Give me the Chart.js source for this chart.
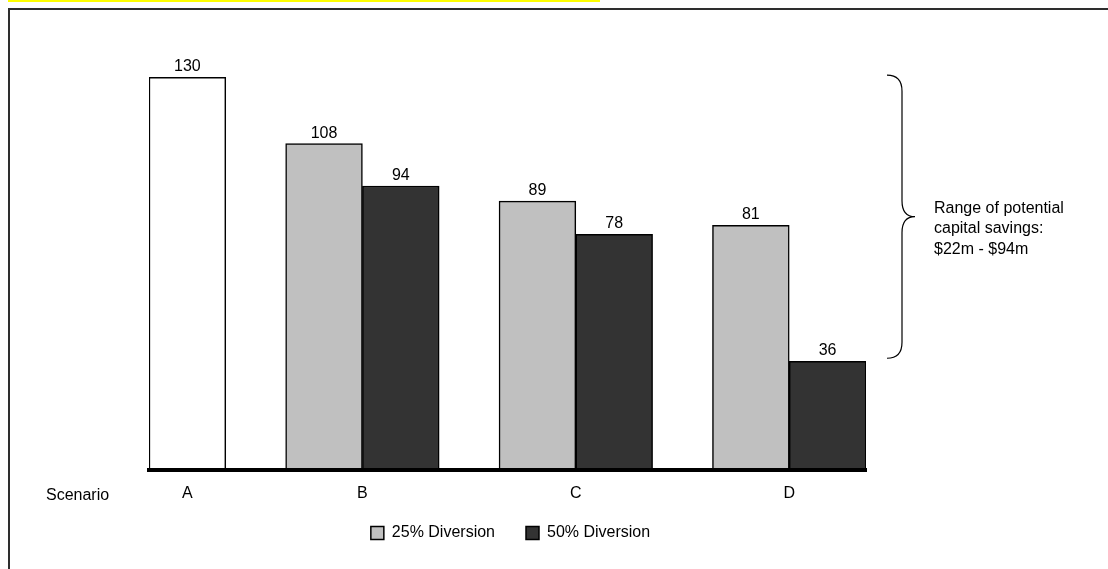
<!DOCTYPE html>
<html>
<head>
<meta charset="utf-8">
<title>Capital cost by scenario</title>
<script src="https://cdn.jsdelivr.net/npm/chart.js@4"></script>
<style>
  html, body { margin: 0; padding: 0; background: #fff; }
  body { width: 1108px; height: 569px; position: relative; overflow: hidden; }
  .strip { position: absolute; left: 8px; top: 0; width: 592px; height: 2px; background: #ffff00; }
  .frame { position: absolute; left: 8px; top: 8px; width: 1120px; height: 600px;
           border-left: 2px solid #2e2e2e; border-top: 2px solid #2e2e2e; }
  #chart { position: absolute; left: 0; top: 0; }
</style>
</head>
<body>
<div class="strip"></div>
<div class="frame"></div>
<canvas id="chart" width="1108" height="569"></canvas>
<script>
  const scenarios = ["A", "B", "C", "D"];
  const baseCase = 130;            // scenario A
  const div25 = [108, 89, 81];     // scenarios B, C, D
  const div50 = [94, 78, 36];
  const seriesNames = ["25% Diversion", "50% Diversion"];
  const yMax = 140;

  const FONT = "Arial, 'Liberation Sans', sans-serif";
  Chart.defaults.font.family = FONT;
  Chart.defaults.font.size = 16;
  Chart.defaults.color = "#000";

  // x runs in bar widths: A on its own, then B-D as pairs with a gap between groups
  const GAP = 0.78;
  const groupStart = (k) => 1 + GAP + k * (2 + GAP);
  const span = groupStart(div25.length - 1) + 2;
  const PAD = { left: 149, right: 242, top: 47, bottom: 2 };
  const barPx = (1108 - PAD.left - PAD.right) / span;
  const tickPos = [0.5].concat(div25.map((_, k) => groupStart(k) + 1));

  const allDiv = div25.concat(div50);
  const saveLo = baseCase - Math.max(...allDiv);
  const saveHi = baseCase - Math.min(...allDiv);

  const annotate = {
    id: "annotate",
    afterLayout(chart) {
      // pull the legend row up closer to the axis labels
      const lg = chart.legend;
      lg.top -= 16;
      lg.bottom -= 16;
      lg.left += 3;
      lg.right += 3;
    },
    afterDatasetsDraw(chart) {
      const ctx = chart.ctx;
      const area = chart.chartArea;
      const y = chart.scales.y;
      ctx.save();
      ctx.fillStyle = "#000";
      ctx.font = "16px " + FONT;

      // value over each bar
      ctx.textAlign = "center";
      ctx.textBaseline = "alphabetic";
      chart.data.datasets.forEach((ds, i) => {
        chart.getDatasetMeta(i).data.forEach((bar, j) => {
          ctx.fillText(String(ds.data[j].y), bar.x, bar.y - 6);
        });
      });

      // row caption for the category axis
      ctx.textAlign = "left";
      ctx.fillText("Scenario", 46, area.bottom + 30);

      // brace spanning base case down to the lowest option
      const top = y.getPixelForValue(baseCase) - 2;
      const bot = y.getPixelForValue(Math.min(...allDiv)) - 3;
      const mid = (top + bot) / 2;
      const x0 = area.right + 21, x1 = x0 + 15, x2 = x0 + 28, r = 16;
      ctx.strokeStyle = "#000";
      ctx.lineWidth = 1.2;
      ctx.beginPath();
      ctx.moveTo(x0, top);
      ctx.quadraticCurveTo(x1, top, x1, top + r);
      ctx.lineTo(x1, mid - r);
      ctx.quadraticCurveTo(x1, mid, x2, mid);
      ctx.quadraticCurveTo(x1, mid, x1, mid + r);
      ctx.lineTo(x1, bot - r);
      ctx.quadraticCurveTo(x1, bot, x0, bot);
      ctx.stroke();

      const lines = ["Range of potential", "capital savings:", "$" + saveLo + "m - $" + saveHi + "m"];
      lines.forEach((t, i) => ctx.fillText(t, x2 + 19, mid - 4 + i * 20.7));
      ctx.restore();
    }
  };

  new Chart(document.getElementById("chart"), {
    type: "bar",
    data: {
      datasets: [
        {
          label: "Scenario A",
          data: [{ x: 0.5, y: baseCase }],
          backgroundColor: "#ffffff",
          borderColor: "#000",
          borderWidth: 1.5,
        },
        {
          label: seriesNames[0],
          data: div25.map((v, k) => ({ x: groupStart(k) + 0.5, y: v })),
          backgroundColor: "#c0c0c0",
          borderColor: "#000",
          borderWidth: 1.5,
        },
        {
          label: seriesNames[1],
          data: div50.map((v, k) => ({ x: groupStart(k) + 1.5, y: v })),
          backgroundColor: "#333333",
          borderColor: "#000",
          borderWidth: 1.5,
        },
      ],
    },
    options: {
      responsive: false,
      animation: false,
      devicePixelRatio: 1,
      grouped: false,
      barThickness: barPx,
      layout: { padding: PAD },
      plugins: {
        legend: {
          position: "bottom",
          labels: {
            boxWidth: 13,
            boxHeight: 13,
            padding: 31,
            filter: (item) => item.datasetIndex > 0,
          },
        },
        tooltip: { enabled: false },
      },
      scales: {
        x: {
          type: "linear",
          offset: false,
          min: 0,
          max: span,
          grid: { display: false, drawTicks: false },
          border: { display: true, color: "#000", width: 4, z: 1 },
          afterBuildTicks: (s) => { s.ticks = tickPos.map((v) => ({ value: v })); },
          afterFit: (s) => { s.height = 40; },
          ticks: {
            autoSkip: false,
            maxRotation: 0,
            padding: 14,
            callback: (v, i) => scenarios[i],
          },
        },
        y: { display: false, min: 0, max: yMax },
      },
    },
    plugins: [annotate],
  });
</script>
</body>
</html>
